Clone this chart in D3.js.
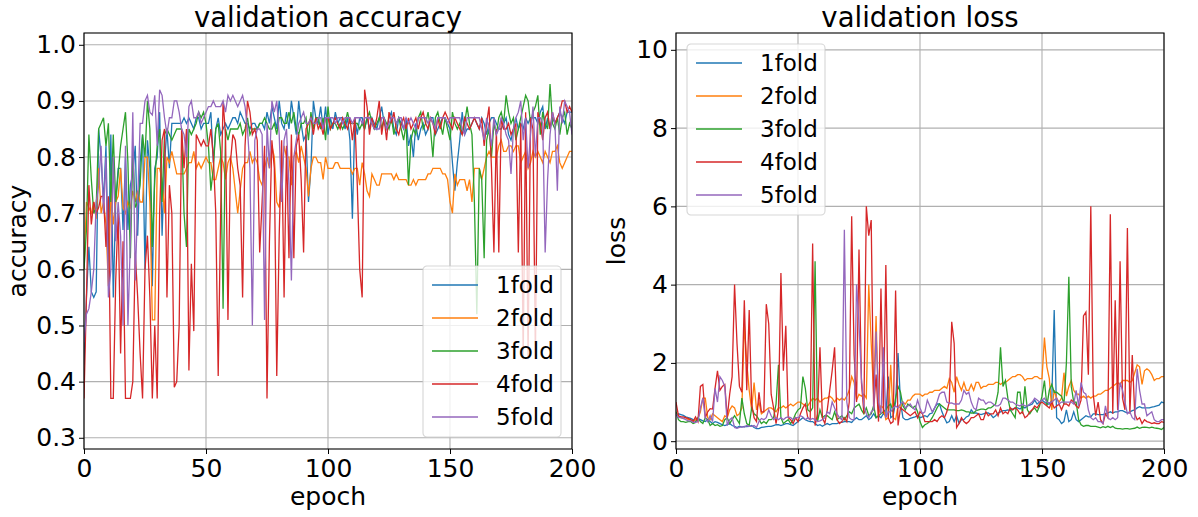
<!DOCTYPE html>
<html>
<head>
<meta charset="utf-8">
<script src="https://cdn.jsdelivr.net/npm/d3@7/dist/d3.min.js"></script>
<style>
  html, body { margin: 0; padding: 0; background: #fff; }
  svg { display: block; }
  text { font-family: "DejaVu Sans", sans-serif; fill: #000; }
</style>
</head>
<body>
<div id="chart"></div>
<script>
const folds = ["1fold", "2fold", "3fold", "4fold", "5fold"];
const epochTicks = [0, 50, 100, 150, 200];
const accTicks = [0.3, 0.4, 0.5, 0.6, 0.7, 0.8, 0.9, 1.0];
const lossTicks = [0, 2, 4, 6, 8, 10];

// validation accuracy, one value per epoch
const acc1 = [.43,.55,.64,.56,.55,.56,.85,.80,.72,.82,.60,.84,.55,.72,.78,.78,.67,.80,.67,.75,.77,.82,.66,.79,.84,.60,.83,.78,.57,.78,.80,.88,.66,.79,.85,.78,.86,.86,.86,.86,
  .86,.87,.86,.87,.86,.85,.87,.87,.85,.86,.86,.86,.88,.79,.85,.87,.84,.85,.86,.85,.86,.87,.87,.86,.88,.87,.86,.86,.85,.86,.86,.85,.86,.86,.85,.88,.86,.89,.87,.85,
  .90,.86,.85,.88,.85,.90,.87,.84,.90,.86,.83,.84,.72,.78,.90,.87,.86,.89,.85,.89,.84,.87,.85,.88,.86,.87,.87,.85,.87,.83,.69,.87,.84,.87,.87,.85,.87,.85,.87,.86,
  .85,.87,.89,.86,.85,.87,.88,.85,.84,.87,.86,.85,.87,.82,.84,.80,.86,.83,.85,.86,.84,.85,.87,.87,.84,.85,.86,.87,.87,.86,.85,.79,.74,.79,.83,.88,.84,.85,.85,.86,
  .87,.86,.85,.87,.86,.84,.86,.87,.87,.86,.85,.85,.86,.87,.84,.83,.85,.87,.85,.86,.85,.87,.86,.87,.87,.87,.86,.88,.89,.85,.87,.85,.87,.86,.87,.88,.87,.86,.88,.88,.88];
const acc2 = [.60,.72,.71,.70,.72,.69,.78,.70,.72,.68,.57,.74,.68,.72,.73,.78,.71,.70,.72,.71,.74,.72,.74,.72,.72,.80,.80,.72,.51,.51,.78,.78,.76,.70,.80,.79,.81,.79,.77,.77,
  .77,.77,.78,.79,.79,.81,.78,.79,.78,.79,.80,.79,.79,.76,.76,.78,.80,.79,.76,.79,.80,.78,.74,.70,.74,.78,.79,.79,.81,.79,.80,.79,.76,.75,.78,.80,.78,.82,.80,.72,
  .71,.76,.82,.80,.80,.75,.80,.81,.79,.82,.80,.78,.73,.78,.80,.80,.79,.79,.76,.80,
  .78,.78,.78,.79,.79,.78,.78,.78,.78,.78,.77,.78,.78,.75,.79,.77,.74,.73,.77,.76,.75,.75,.77,.77,.77,.77,.77,.76,.77,.76,.76,.76,.76,.75,.75,.76,.75,.76,.76,.76,
  .76,.77,.77,.78,.78,.78,.78,.77,.77,.76,.72,.70,.77,.75,.76,.76,.76,.74,.76,.72,.78,.78,.78,.76,.78,.80,.81,.80,.80,.80,.82,.83,.81,.81,.82,.82,.81,.82,.82,.79,.80,
  .81,.78,.79,.81,.80,.81,.80,.79,.81,.80,.79,.81,.81,.82,.79,.78,.79,.80,.81,.81];
const acc3 = [.60,.67,.84,.76,.70,.71,.85,.86,.87,.82,.86,.72,.84,.72,.77,.82,.85,.88,.79,.62,.81,.71,.72,.75,.84,.80,.90,.85,.64,.76,.82,.85,.72,.84,.85,.84,.83,.84,.85,.85,
  .85,.70,.64,.85,.84,.85,.86,.88,.87,.88,.86,.82,.74,.78,.85,.86,.81,.53,.85,.83,.85,.85,.85,.85,.86,.84,.85,.87,.84,.85,.85,.85,.86,.86,.87,.86,.85,.85,.86,.84,
  .87,.87,.86,.86,.88,.86,.88,.85,.84,.86,.86,.87,.83,.88,.85,.87,.87,.85,.87,.83,.89,.85,.86,.86,.85,.86,.85,.86,.88,.86,.86,.86,.86,.85,.86,.85,.87,.88,.86,.85,
  .86,.87,.85,.87,.86,.85,.87,.84,.86,.87,.85,.83,.86,.75,.83,.85,.84,.87,.88,.85,.86,.88,.85,.80,.87,.88,.86,.84,.87,.85,.83,.88,.86,.85,.86,.84,.86,.89,.86,.84,
  .72,.52,.78,.76,.62,.83,.85,.80,.86,.84,.87,.88,.86,.91,.88,.86,.87,.83,.85,.87,.89,.91,.90,.86,.88,.89,.91,.84,.88,.86,.85,.93,.86,.85,.87,.84,.87,.88,.84,.86,.85];
const acc4 = [.37,.55,.75,.68,.72,.70,.71,.73,.73,.64,.73,.37,.37,.58,.70,.45,.65,.37,.37,.37,.40,.63,.55,.45,.37,.60,.66,.55,.37,.50,.37,.70,.83,.85,.55,.75,.70,.39,.40,.50,
  .85,.78,.85,.42,.61,.49,.84,.83,.82,.83,.82,.82,.85,.80,.70,.41,.70,.90,.84,.51,.79,.84,.83,.78,.75,.55,.82,.90,.88,.84,.85,.83,.63,.72,.82,.37,.65,.83,.78,.41,
  .66,.83,.55,.82,.62,.84,.62,.82,.84,.76,.63,.85,.86,.87,.84,.87,.85,.86,.84,.87,
  .87,.85,.86,.87,.86,.85,.87,.86,.85,.87,.83,.87,.75,.60,.55,.92,.89,.84,.87,.85,
  .87,.90,.84,.87,.83,.88,.86,.88,.85,.84,.86,.87,.85,.87,.85,.86,.87,.85,.87,.88,.86,.85,.87,.86,.84,.87,.85,.87,.88,.87,.86,.85,.87,.86,.85,.84,.87,.86,.85,.86,
  .87,.86,.85,.87,.82,.86,.89,.78,.63,.85,.63,.87,.85,.85,.86,.84,.85,.86,.63,.86,.44,.88,.44,.87,.85,.44,.88,.86,.83,.87,.88,.85,.88,.86,.87,.88,.90,.90,.88,.89,.88];
const acc5 = [.47,.52,.53,.56,.60,.72,.75,.82,.70,.80,.55,.60,.80,.65,.72,.66,.50,.82,.50,.65,.88,.58,.72,.86,.86,.90,.91,.88,.875,.91,.82,.92,.91,.87,.84,.87,.87,.90,.90,.88,
  .85,.84,.80,.89,.90,.87,.87,.88,.86,.87,.88,.89,.89,.90,.89,.89,.89,.90,.88,.91,
  .90,.91,.90,.89,.90,.91,.89,.85,.78,.50,.83,.85,.85,.84,.51,.86,.78,.90,.88,.90,
  .84,.72,.83,.85,.75,.58,.80,.83,.86,.87,.88,.86,.86,.87,.86,.86,.87,.87,.85,.87,.87,.87,.87,.86,.87,.87,.86,.87,.87,.87,.86,.87,.87,.87,.86,.87,.87,.87,.86,.85,
  .85,.85,.87,.87,.85,.86,.87,.87,.86,.87,.87,.85,.87,.86,.87,.86,.85,.87,.87,.87,.87,.86,.87,.86,.85,.87,.87,.87,.87,.86,.87,.87,.87,.87,.87,.85,.84,.87,.87,.87,
  .87,.87,.87,.85,.83,.87,.85,.82,.87,.84,.85,.87,.86,.84,.83,.77,.85,.87,.88,.90,.83,.87,.78,.84,.89,.80,.87,.87,.86,.63,.76,.84,.88,.86,.74,.89,.86,.90,.89,.88,.84];

// validation loss, one value per epoch
const loss1 = [.65,.70,.68,.66,.62,.60,.58,.55,.50,.58,.55,.52,.50,.55,.50,.45,.50,.48,.45,.42,.40,.42,.45,.40,.38,.35,.38,.36,.38,.37,.38,.40,.35,.32,.32,.35,.36,.37,.38,.38,
  .40,.42,.42,.40,.42,.45,.45,.42,.40,.45,.50,.55,.60,.55,.52,.50,.50,.45,.40,.42,.38,.42,.45,.42,.45,.45,.45,.48,.48,.50,.50,.50,.48,.55,.60,.55,.55,.60,.65,.55,
  .60,.70,.60,.65,.60,.70,.65,1.65,.60,.65,1.0,2.25,1.0,.60,.55,.55,.58,.60,.62,.65,
  .60,.62,.65,.62,.70,.72,.85,.95,.95,.75,.60,.47,.50,.65,.50,.65,.45,.55,.55,.62,
  .65,.80,.72,.72,.70,.68,.70,.72,.72,.68,.60,.65,.72,.75,.78,.78,.80,.78,.82,.85,.85,.82,.88,.85,.90,.92,.95,1.05,.95,1.0,
  1.05,1.0,.95,.95,1.05,3.35,.60,.55,.45,.50,
  .80,.50,.55,.75,.55,.50,.55,.60,.65,.62,.62,.70,.70,.68,.68,.68,.70,.72,.75,.72,.75,.75,.78,.78,.75,.72,.75,.78,.80,.85,.88,.85,.85,.85,.85,.87,.88,.90,.92,1.0,.98];
const loss2 = [.75,.62,.60,.58,.60,.55,.55,.50,.55,.58,.75,1.1,1.1,.60,.55,.70,.65,.60,.55,.50,.65,.60,.80,.90,.85,.65,.70,.85,3.0,2.0,1.3,.80,1.5,.80,1.0,.70,.75,.80,.85,.85,
  .80,.75,.85,.85,.90,.85,.90,.95,.90,.95,1.0,1.0,.95,.90,.90,1.0,1.1,1.05,1.1,1.0,1.05,1.1,1.1,1.15,1.1,1.0,1.1,1.05,1.1,1.05,1.15,1.3,1.65,1.5,1.05,1.2,1.15,1.2,1.1,4.0,
  2.5,1.2,3.2,.70,.90,.85,.55,.60,1.95,.60,.55,.90,.85,1.0,.95,1.05,1.05,1.15,1.2,1.2,
  1.2,1.15,1.2,1.2,1.25,1.25,1.3,1.3,1.3,1.35,1.4,1.35,1.6,1.5,1.25,1.65,1.45,1.3,1.5,1.3,
  1.3,1.45,1.3,1.5,1.5,1.35,1.4,1.4,1.45,1.45,1.45,1.5,1.5,1.45,1.5,1.5,1.55,1.6,1.65,1.65,1.7,1.7,1.65,1.55,1.6,1.6,1.6,1.65,1.65,1.6,
  1.6,2.65,1.9,1.6,.8,1.3,1.1,1.0,1.1,1.75,
  1.15,1.4,1.55,1.3,1.2,1.2,1.1,1.15,1.1,1.15,1.1,1.15,1.15,1.2,1.2,1.25,1.3,1.3,1.35,1.4,1.45,1.5,1.45,1.55,1.55,1.55,1.5,1.55,1.75,1.95,1.9,1.45,1.8,1.85,1.8,1.7,1.55,1.6,1.6,1.65,1.65];
const loss3 = [.75,.55,.50,.50,.48,.50,.50,.45,.48,.60,.50,.45,.60,.55,.40,.45,.40,.42,.38,.40,.55,.60,.45,.55,.65,.55,.45,1.1,.70,.45,.40,.85,.70,.65,.55,.45,.50,.45,.55,.55,
  .60,.95,1.95,.60,.45,.50,.55,.45,.55,.70,.80,.85,1.65,1.35,.80,.75,.85,4.6,.50,.80,.60,.65,.65,.60,.55,.75,.55,.60,.65,.55,.65,.75,.70,.85,.90,.95,.80,.70,.85,.65,
  .70,.90,.60,.65,.70,.75,.80,.90,.95,.75,1.1,1.4,1.25,.90,.80,.95,.90,.85,.90,.75,
  .50,.35,.42,.45,.50,.60,.72,.85,.95,.90,.85,.80,.80,.80,.80,.78,.78,.80,.78,.75,
  .75,.72,.72,.78,.80,.82,.82,.80,.85,.85,.90,.95,1.25,2.4,1.4,1.55,1.1,.80,.70,.60,1.25,1.25,.70,1.4,.80,.70,.80,.85,.75,.90,1.15,1.55,.90,1.3,1.45,1.25,1.25,1.2,1.15,.95,
  2.0,4.2,1.4,1.0,1.0,.55,.42,.38,.40,.40,.38,.38,.38,.36,.34,.37,.35,.38,.35,.38,.33,.32,.32,.31,.32,.32,.31,.32,.33,.36,.33,.35,.36,.35,.34,.36,.34,.33,.32,.30,.35];
const loss4 = [1.0,.65,.62,.62,.60,.58,.55,.50,.62,.50,1.40,1.45,.60,.75,.83,.82,1.35,1.8,1.3,1.4,1.45,.60,1.2,1.65,4.0,2.5,1.4,1.25,3.6,1.3,3.35,.95,.60,.50,1.25,.75,.75,3.5,3.0,1.2,
  .85,.45,.80,4.3,1.8,2.95,.60,.55,.45,.60,.50,.70,.85,.95,.60,.55,5.05,.40,.70,2.4,.60,.45,.80,1.3,1.8,2.4,.55,.45,.50,.60,.50,1.0,5.75,2.2,1.0,4.9,1.5,.70,6.0,5.25,
  5.65,.80,1.7,.50,3.9,.70,4.5,.60,.45,.50,3.85,.40,.85,.80,.75,.70,.65,.70,.75,.60,.75,.70,.50,.50,.50,.50,.55,.50,.60,.65,.60,.75,1.0,3.05,2.5,.35,.45,.60,.50,.45,
  .50,.60,.60,.65,.70,.55,.55,.75,.65,.70,.70,.80,.65,.85,.70,.75,.70,.85,.80,.85,.80,.70,.75,.60,.65,.75,.80,.90,.85,.95,1.0,.95,.90,.85,1.0,.85,.90,.95,.80,.95,
  .95,.90,1.05,1.0,.90,.85,1.05,3.2,3.3,1.7,6.0,1.2,.65,1.0,.55,.45,.70,.60,5.8,.70,3.6,.80,4.6,1.1,.80,5.45,.70,2.2,.70,.55,.60,.45,.55,.50,.48,.45,.47,.45,.45,.50,.48];
const loss5 = [.70,.60,.60,.58,.55,.52,.52,.48,.48,.50,.85,1.1,.60,.50,.65,.50,1.35,1.0,1.65,1.55,1.4,.40,.55,.60,.35,.33,.35,.37,.36,.40,.38,.38,.40,.35,.50,.58,.55,.60,.80,.65,
  .55,.60,.55,.60,.55,.60,.62,.60,.55,.60,.60,.65,.62,.55,.60,.55,.58,.55,.50,.52,
  .55,.60,.75,.70,1.0,.85,.70,.60,.55,5.4,1.0,.60,.55,.55,4.0,3.0,1.6,.90,.70,.60,
  .75,.80,2.8,1.0,.70,2.4,.60,.75,.75,.85,.90,.85,.95,1.0,.85,.90,.95,.85,.80,1.05,
  .85,.70,.75,1.05,.90,.75,.85,1.0,1.2,1.25,1.25,1.0,.97,.98,.95,.95,.95,1.05,1.3,1.2,
  1.25,1.0,.85,.80,1.1,1.05,1.05,.95,1.0,1.0,.95,.90,.90,.95,1.1,1.1,1.05,1.0,1.0,.95,.92,.90,.95,.90,.90,.95,1.0,1.1,1.05,1.0,1.05,1.1,1.0,.98,1.0,1.05,1.1,.95,1.0,1.0,
  1.0,1.0,1.0,.95,1.3,.90,1.5,1.25,1.2,.80,.60,.55,.60,.50,.50,.45,.90,.60,.55,.60,.55,.60,1.5,1.3,1.0,.70,.75,.60,.55,1.85,1.3,.95,.95,.65,.70,.75,.55,.50,.50,.55,.55];

const colors = d3.schemeCategory10.slice(0, 5);

const svg = d3.select("#chart").append("svg")
  .attr("width", 1198)
  .attr("height", 517);

// one panel: grid, lines, axes, legend
function drawPanel(id, left, title, ylabel, yDomain, yTickVals, yFmt, series, legendPos, ylabelX) {
  const w = 488, h = 416, top = 33;
  const g = svg.append("g").attr("transform", `translate(${left},${top})`);

  const x = d3.scaleLinear().domain([0, 200]).range([0, w]);
  const y = d3.scaleLinear().domain(yDomain).range([h, 0]);

  // grid
  g.append("g").selectAll("line").data(epochTicks).enter().append("line")
    .attr("x1", d => x(d)).attr("x2", d => x(d)).attr("y1", 0).attr("y2", h)
    .attr("stroke", "#b0b0b0").attr("stroke-width", 1.1);
  g.append("g").selectAll("line").data(yTickVals).enter().append("line")
    .attr("x1", 0).attr("x2", w).attr("y1", d => y(d)).attr("y2", d => y(d))
    .attr("stroke", "#b0b0b0").attr("stroke-width", 1.1);

  svg.append("clipPath").attr("id", id).append("rect")
    .attr("width", w).attr("height", h);

  const line = d3.line().x((d, i) => x(i)).y(d => y(d));
  g.append("g").attr("clip-path", `url(#${id})`)
    .selectAll("path").data(series).enter().append("path")
    .attr("d", line)
    .attr("fill", "none")
    .attr("stroke", (d, i) => colors[i])
    .attr("stroke-width", 1.3);

  // axes
  const xAxis = g.append("g").attr("transform", `translate(0,${h})`)
    .call(d3.axisBottom(x).tickValues(epochTicks).tickSize(5).tickPadding(5));
  const yAxis = g.append("g")
    .call(d3.axisLeft(y).tickValues(yTickVals).tickFormat(yFmt).tickSize(5).tickPadding(3));
  [xAxis, yAxis].forEach(a => {
    a.select(".domain").remove();
    a.selectAll("text").style("font-size", "25px").style("font-family", '"DejaVu Sans", sans-serif');
    a.selectAll("line").attr("stroke", "#000");
  });
  g.append("rect").attr("width", w).attr("height", h)
    .attr("fill", "none").attr("stroke", "#000").attr("stroke-width", 1.1);

  // legend
  const lg = g.append("g").attr("transform", `translate(${legendPos[0]},${legendPos[1]})`);
  lg.append("rect").attr("width", 138).attr("height", 171).attr("rx", 4)
    .attr("fill", "#fff").attr("fill-opacity", 0.8)
    .attr("stroke", "#ccc").attr("stroke-opacity", 0.8).attr("stroke-width", 1.1);
  folds.forEach((name, i) => {
    const ly = 19 + i * 33;
    lg.append("line").attr("x1", 9).attr("x2", 55).attr("y1", ly).attr("y2", ly)
      .attr("stroke", colors[i]).attr("stroke-width", 1.3);
    lg.append("text").attr("x", 73).attr("y", ly + 8)
      .style("font-size", "23px").text(name);
  });

  // titles
  g.append("text").attr("x", w / 2).attr("y", -6).attr("text-anchor", "middle")
    .style("font-size", "27.5px").text(title);
  g.append("text").attr("x", w / 2).attr("y", h + 56).attr("text-anchor", "middle")
    .style("font-size", "25px").text("epoch");
  g.append("text")
    .attr("transform", `translate(${ylabelX},${h / 2}) rotate(-90)`)
    .attr("text-anchor", "middle")
    .style("font-size", "25px").text(ylabel);
}

drawPanel("clipAcc", 84, "validation accuracy", "accuracy", [0.28, 1.021], accTicks,
  d3.format(".1f"), [acc1, acc2, acc3, acc4, acc5], [339, 233], -58);
drawPanel("clipLoss", 676, "validation loss", "loss", [-0.2, 10.43], lossTicks,
  d3.format("d"), [loss1, loss2, loss3, loss4, loss5], [11, 11], -51);
</script>
</body>
</html>
